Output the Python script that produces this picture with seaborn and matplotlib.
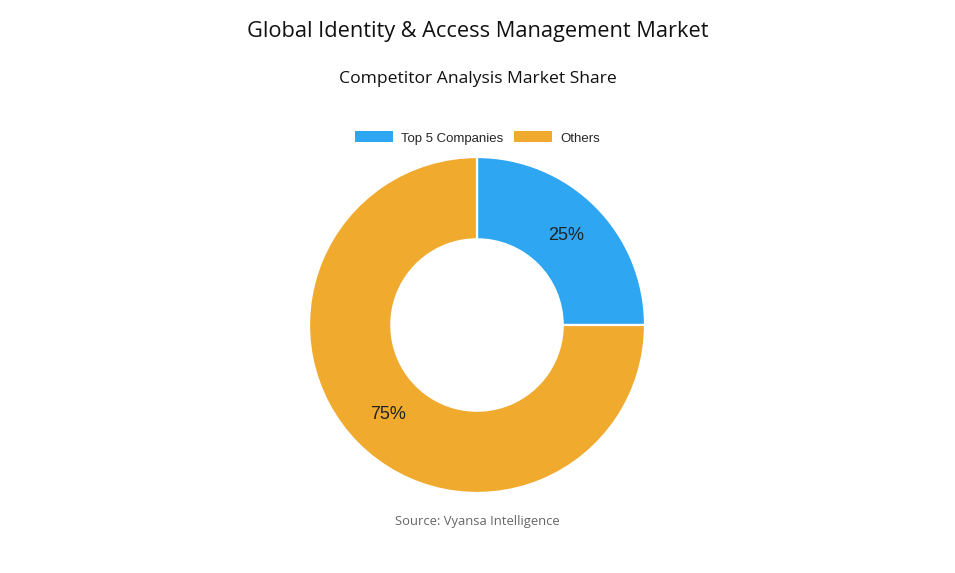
import matplotlib
matplotlib.use("Agg")
import matplotlib.pyplot as plt
from matplotlib.patches import Rectangle
import seaborn as sns

categories = ["Top 5 Companies", "Others"]
shares = [25, 75]
colors = ["#2EA6F2", "#F0AB2E"]

sns.set_theme(style="white")
plt.rcParams["font.family"] = ["Open Sans", "DejaVu Sans"]

fig = plt.figure(figsize=(9.55, 5.73), dpi=100)
fig.patch.set_facecolor("white")

W, H = 955, 573
cx, cy, r = 477, 325, 168
ax = fig.add_axes([(cx - r) / W, (H - cy - r) / H, 2 * r / W, 2 * r / H])
wedges, texts, autotexts = ax.pie(
    shares,
    colors=colors,
    startangle=90,
    counterclock=False,
    radius=1.0,
    autopct=lambda p: f"{p:.0f}%",
    pctdistance=0.75,
    wedgeprops=dict(width=0.49, edgecolor="white", linewidth=1.6),
    textprops=dict(fontsize=13, color="#222222", family=["Liberation Sans", "DejaVu Sans"]),
)
ax.set_xlim(-1, 1)
ax.set_ylim(-1, 1)
ax.set_aspect("auto")
ax.axis("off")

fig.text(0.5, 1 - 31 / H, "Global Identity & Access Management Market",
         ha="center", va="center", fontsize=15.7, color="#111111")
fig.text(0.5, 1 - 79 / H, "Competitor Analysis Market Share",
         ha="center", va="center", fontsize=12.6, color="#111111")
fig.text(0.5, 1 - 522 / H, "Source: Vyansa Intelligence",
         ha="center", va="center", fontsize=9.4, color="#666666")

handles = [Rectangle((0, 0), 1, 1, facecolor=c, edgecolor="none") for c in colors]
fig.legend(handles, categories, loc="center", bbox_to_anchor=(0.5, 1 - 138 / H),
           ncol=2, frameon=False, handlelength=2.9, handleheight=0.9,
           handletextpad=0.6, columnspacing=0.8,
           prop=dict(family=["Liberation Sans", "DejaVu Sans"], size=9.5))

fig.savefig("out.png", dpi=100, facecolor="white")
